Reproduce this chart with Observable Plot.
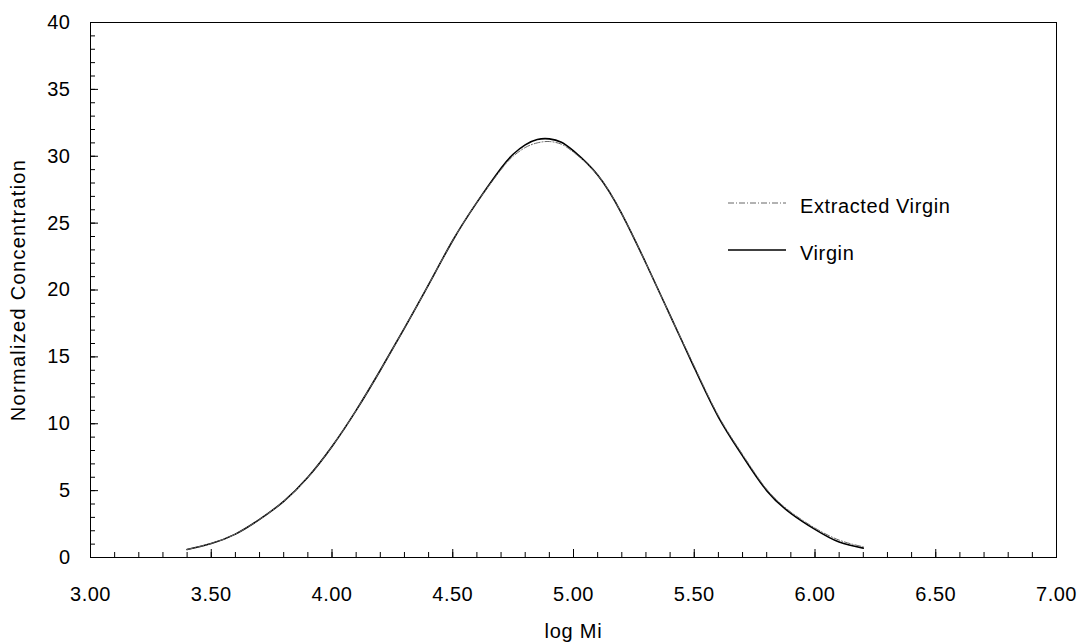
<!DOCTYPE html>
<html><head><meta charset="utf-8">
<script src="https://cdn.jsdelivr.net/npm/d3@7"></script>
<script src="https://cdn.jsdelivr.net/npm/@observablehq/plot@0.6"></script>
<style>
body{margin:0;background:#fff;font-family:"Liberation Sans",Arial,sans-serif;}
#wrap{position:relative;width:1078px;height:642px;}
#legend{position:absolute;left:728px;top:190px;font-size:20px;letter-spacing:0.6px;color:#000;}
.row{position:absolute;left:0;white-space:nowrap;height:26px;}
.row svg{position:absolute;left:0;top:0;}
.row span{position:absolute;left:72px;top:5px;}
svg text{letter-spacing:0.5px;}
</style></head><body><div id="wrap"></div>
<script>
const logM = [3.40,3.50,3.60,3.70,3.80,3.90,4.00,4.10,4.20,4.30,4.40,4.50,4.60,4.70,4.75,4.80,4.85,4.90,4.95,5.00,5.10,5.20,5.30,5.40,5.50,5.60,5.70,5.80,5.90,6.00,6.10,6.20];
const virgin = [0.6,1.05,1.75,2.85,4.2,6.0,8.3,11.0,14.0,17.15,20.4,23.7,26.55,29.1,30.15,30.85,31.25,31.3,31.05,30.4,28.6,25.7,22.0,18.1,14.2,10.5,7.6,5.0,3.3,2.1,1.15,0.7];
const extracted = [0.6,1.05,1.75,2.85,4.2,6.0,8.3,11.0,14.0,17.15,20.4,23.7,26.55,29.0,30.0,30.65,31.0,31.1,30.9,30.3,28.6,25.7,22.0,18.1,14.3,10.6,7.7,5.1,3.4,2.2,1.3,0.8];
const seriesNames = ["Extracted Virgin","Virgin"];
const xTicks = [3.0,3.5,4.0,4.5,5.0,5.5,6.0,6.5,7.0];
const yTicks = [0,5,10,15,20,25,30,35,40];
const xMinor = d3.range(30,71).map(d=>d/10);
const yMinor = d3.range(0,41);

const W=1078,H=642,ML=90,MR=22,MT=22,MB=85;
const IW=W-ML-MR, IH=H-MT-MB;
const font='"Liberation Sans", Arial, sans-serif';

const rowsV = logM.map((x,i)=>({x, c:virgin[i]}));
const rowsE = logM.map((x,i)=>({x, c:extracted[i]}));

const plot = Plot.plot({
  width:W, height:H,
  marginLeft:ML, marginRight:MR, marginTop:MT, marginBottom:MB,
  style:{fontFamily:font, fontSize:"20px", background:"white", color:"black"},
  x:{domain:[3,7]},
  y:{domain:[0,40]},
  marks:[
    Plot.ruleX(xMinor,{x:d=>d, insetTop:IH-5, stroke:"black", strokeWidth:1}),
    Plot.ruleX(xTicks,{x:d=>d, insetTop:IH-8, stroke:"black", strokeWidth:1}),
    Plot.ruleY(yMinor,{y:d=>d, insetRight:IW-5, stroke:"black", strokeWidth:1}),
    Plot.ruleY(yTicks,{y:d=>d, insetRight:IW-8, stroke:"black", strokeWidth:1}),
    Plot.axisX(xTicks,{tickSize:0, tickPadding:29, tickFormat:d=>d.toFixed(2), fontSize:20, label:"log Mi", labelAnchor:"center", labelOffset:80, labelArrow:"none"}),
    Plot.axisY(yTicks,{tickSize:0, tickPadding:20, tickFormat:d=>String(d), fontSize:20, label:"Normalized Concentration", labelAnchor:"center", labelOffset:80, labelArrow:"none"}),
    Plot.line(rowsV,{x:"x", y:"c", curve:"natural", stroke:"black", strokeWidth:1.6}),
    Plot.line(rowsE,{x:"x", y:"c", curve:"natural", stroke:"#666", strokeWidth:1, strokeDasharray:"6,2,1,2"}),
    Plot.frame({stroke:"black", strokeWidth:1})
  ]
});
const wrap=document.getElementById("wrap");
wrap.appendChild(plot);
plot.querySelectorAll("text").forEach(t=>{
  const s=t.textContent;
  if(s==="Normalized Concentration") t.style.letterSpacing="1.3px";
  if(s==="log Mi") t.style.letterSpacing="0.8px";
});
const leg=document.createElement("div");
leg.id="legend";
const styles=[{stroke:"#666",w:1,dash:"6,2,1,2"},{stroke:"black",w:1.4,dash:""}];
seriesNames.forEach((name,i)=>{
  const r=document.createElement("div");
  r.className="row";
  r.style.top=(i*47)+"px";
  r.innerHTML=`<svg width="62" height="26"><line x1="0" x2="58" y1="13" y2="13" stroke="${styles[i].stroke}" stroke-width="${styles[i].w}" stroke-dasharray="${styles[i].dash}"/></svg><span>${name}</span>`;
  leg.appendChild(r);
});
wrap.appendChild(leg);
</script>
</body></html>
